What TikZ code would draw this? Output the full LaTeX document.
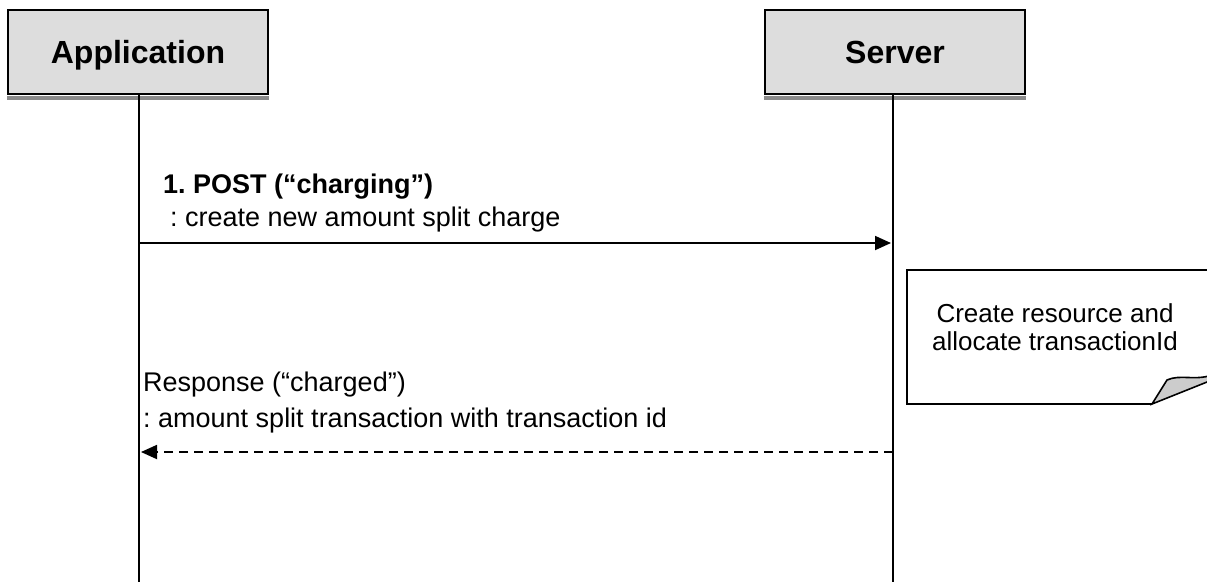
\documentclass[tikz,border=0pt]{standalone}
\usepackage{fontspec}
\setmainfont{Liberation Sans}
\frenchspacing
\usetikzlibrary{arrows.meta}
\definecolor{boxgray}{HTML}{DDDDDD}
\definecolor{shadowgray}{HTML}{8A8A8A}
\definecolor{foldgray}{HTML}{CCCCCC}
\begin{document}
\frenchspacing
\begin{tikzpicture}[x=1pt,y=-1pt,
  actor/.style={draw=black,line width=2.2pt,fill=boxgray,minimum width=260pt,minimum height=84pt,inner sep=0pt,text height=22pt,text depth=0pt,font=\fontsize{32}{34}\selectfont\bfseries},
  lifeline/.style={line width=1.6pt},
  msg/.style={line width=1.8pt,-{Triangle[length=16pt,width=14pt]}},
  reply/.style={msg,dash pattern=on 9pt off 6pt},
  label/.style={anchor=west,inner sep=0pt,font=\fontsize{27}{30}\selectfont},
  note/.style={line width=1.6pt}]
\useasboundingbox (0,0) rectangle (1207,582);
\begin{scope}
\clip (0,0) rectangle (1207,582);
% actors
\node[actor] (app) at (138,52) {Application};
\node[actor] (srv) at (895,52) {Server};
\fill[shadowgray] (app.south west) ++(0,1) rectangle ([yshift=-5pt]app.south east);
\fill[shadowgray] (srv.south west) ++(0,1) rectangle ([yshift=-5pt]srv.south east);
% lifelines
\coordinate (appEnd) at (139,582);
\coordinate (srvEnd) at (893,582);
\draw[lifeline] (app.south -| appEnd) -- (appEnd);
\draw[lifeline] (srv.south -| srvEnd) -- (srvEnd);
% message 1
\coordinate (m1a) at (139,243);
\coordinate (m1b) at (891,243);
\draw[msg] (m1a) -- (m1b);
\node[label,font=\fontsize{27}{30}\selectfont\bfseries] (t1) at (163,187) {1. POST (“charging”)};
\node[label] (t2) at (170,220) {: create new amount split charge};
% note
\draw[note,fill=white] (1215,270) -- (907,270) -- (907,404) -- (1152,404);
\node[align=center,inner sep=0pt,font=\fontsize{26}{28}\selectfont] (n) at (1055,327) {Create resource and\\allocate transactionId};
\draw[note,fill=foldgray] (1152,404) -- (1167,380) .. controls (1180,374) and (1195,381) .. (1212,375) -- (1212,380) -- cycle;
% response
\coordinate (m2a) at (893,452);
\coordinate (m2b) at (141,452);
\draw[reply] (m2a) -- (m2b);
\node[label] (t3) at (143,385) {Response (“charged”)};
\node[label] (t4) at (143,421) {: amount split transaction with transaction id};
\end{scope}
\end{tikzpicture}
\end{document}
